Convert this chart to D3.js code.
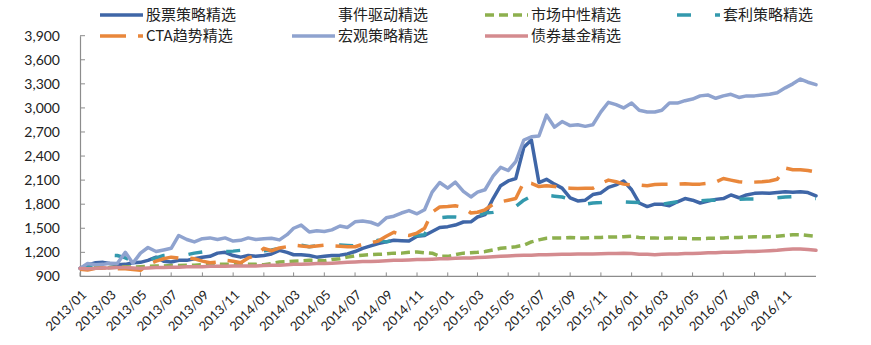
<!DOCTYPE html>
<html><head><meta charset="utf-8">
<script src="https://cdn.jsdelivr.net/npm/d3@7"></script>
<style>
body{margin:0;background:#fff;}
svg{display:block;}
</style></head>
<body><svg id="c" width="871" height="345"></svg>
<script>
// half-month observation dates: 1st and 16th of each month, 2013/01/01 .. 2017/01/01
const dates = d3.range(97).map(i => new Date(2013, Math.floor(i / 2), i % 2 ? 16 : 1));

const yTicks = [900, 1200, 1500, 1800, 2100, 2400, 2700, 3000, 3300, 3600, 3900];

const seriesNames = ["股票策略精选","事件驱动精选","市场中性精选","套利策略精选","CTA趋势精选","宏观策略精选","债券基金精选"];

const stock = [1000,1040,1070,1075,1060,1045,1050,1070,1075,1100,1140,1090,1080,1100,1100,1120,1140,1150,1190,1200,1160,1140,1160,1150,1160,1180,1225,1200,1170,1170,1160,1140,1150,1160,1165,1180,1210,1250,1280,1310,1330,1350,1345,1340,1400,1410,1460,1510,1520,1540,1578,1580,1640,1670,1870,2030,2090,2120,2510,2600,2070,2110,2050,2000,1880,1840,1850,1920,1940,2010,2040,2090,1980,1815,1770,1800,1800,1780,1830,1870,1850,1815,1840,1860,1870,1915,1880,1915,1935,1940,1935,1945,1955,1950,1955,1945,1905];

const event = [];

const neutral = [1000,1005,1010,1005,1010,1015,1020,1015,1020,1025,1030,1030,1035,1035,1040,1040,1045,1045,1050,1050,1055,1055,1050,1050,1045,1060,1080,1085,1090,1095,1100,1100,1095,1110,1120,1140,1155,1165,1170,1175,1180,1190,1190,1200,1205,1195,1190,1150,1150,1170,1190,1195,1200,1210,1230,1250,1260,1270,1290,1330,1355,1375,1380,1380,1385,1380,1380,1385,1385,1390,1390,1395,1400,1385,1380,1380,1375,1380,1375,1375,1370,1370,1375,1375,1380,1385,1385,1390,1395,1390,1395,1400,1410,1420,1420,1410,1400];

const arbitrage = [1000,1020,1060,1100,1165,1160,1130,1090,1075,1100,1130,1160,1170,1180,1170,1190,1205,1205,1200,1210,1215,1225,1215,1200,1220,1230,1250,1270,1285,1290,1270,1280,1285,1290,1290,1285,1280,1300,1330,1350,1330,1350,1380,1400,1410,1420,1600,1630,1640,1640,1630,1640,1650,1690,1700,1720,1740,1770,1850,1900,1920,1910,1900,1890,1860,1820,1800,1815,1820,1830,1840,1830,1825,1820,1810,1805,1800,1815,1830,1840,1840,1840,1850,1850,1855,1860,1860,1865,1865,1870,1875,1880,1890,1895,1890,1880,1870];

const cta = [990,980,1000,1005,1005,995,995,985,975,1050,1090,1120,1140,1130,1130,1120,1090,1070,1080,1100,1090,1070,1130,1160,1250,1220,1255,1270,1290,1280,1270,1280,1290,1280,1275,1270,1270,1300,1320,1340,1400,1450,1420,1410,1440,1500,1700,1765,1770,1780,1760,1690,1700,1730,1800,1830,1850,1870,2075,2060,2020,2030,2020,2005,2000,1995,2000,2000,2060,2100,2080,2050,2040,2040,2030,2045,2050,2050,2050,2055,2050,2050,2060,2075,2120,2100,2080,2070,2075,2080,2090,2110,2250,2230,2230,2220,2200];

const macro = [1000,1060,1045,1050,1065,1060,1200,1065,1190,1260,1210,1230,1250,1410,1360,1330,1370,1380,1360,1380,1340,1350,1380,1360,1370,1375,1355,1420,1500,1540,1454,1470,1460,1480,1528,1510,1580,1590,1575,1540,1630,1650,1690,1720,1680,1730,1950,2070,2000,2075,1960,1890,1950,1980,2150,2260,2220,2330,2600,2640,2650,2910,2760,2830,2780,2790,2770,2790,2950,3070,3040,3000,3060,2970,2950,2950,2970,3060,3060,3090,3110,3150,3160,3120,3150,3170,3130,3150,3150,3160,3170,3190,3250,3300,3360,3320,3290];

const bond = [1000,995,1000,1005,1005,1010,1010,1005,1000,1005,1010,1010,1015,1015,1020,1020,1020,1025,1025,1025,1030,1030,1030,1030,1035,1040,1040,1045,1050,1050,1055,1060,1060,1065,1070,1075,1080,1085,1085,1090,1095,1100,1100,1105,1110,1110,1115,1120,1120,1125,1130,1130,1135,1140,1145,1150,1155,1160,1165,1165,1170,1170,1172,1175,1175,1178,1180,1180,1182,1185,1185,1188,1185,1175,1175,1170,1175,1180,1180,1185,1185,1190,1195,1195,1200,1200,1205,1210,1210,1215,1220,1225,1235,1240,1240,1235,1225];

const seriesValues = [stock, event, neutral, arbitrage, cta, macro, bond];
const seriesColors = ["#3F66A7", "none", "#8DB04E", "#3399AD", "#E9873B", "#8FA3CF", "#D48B8F"];
const seriesDash = [null, null, "9,5", "14,24", "26,12", null, null];
const seriesWidth = [3.5, 3.5, 3.5, 3.5, 3.5, 3.5, 3.5];

const svg = d3.select("#c");
const x = d3.scaleTime().domain([new Date(2013,0,1), new Date(2017,0,1)]).range([80, 816]);
const y = d3.scaleLinear().domain([900, 3900]).range([276.4, 35.7]);

// axes
const yAxis = d3.axisLeft(y).tickValues(yTicks).tickSize(0).tickPadding(20).tickFormat(d3.format(","));
const gy = svg.append("g").attr("transform","translate(80,0)").call(yAxis);
gy.select(".domain").attr("stroke","#8c8c8c").attr("stroke-width",1.2);
gy.selectAll("text").attr("font-family","Lato, 'Liberation Sans', sans-serif").attr("font-size",14).attr("fill","#222").attr("x",-20);
gy.selectAll(".tk").data(yTicks).enter().append("line")
  .attr("x1",0).attr("x2",5).attr("y1",d=>y(d)).attr("y2",d=>y(d)).attr("stroke","#8c8c8c").attr("stroke-width",1);

const xTicks = d3.timeMonth.range(new Date(2013,0,1), new Date(2016,11,1), 2);
const gx = svg.append("g").attr("transform","translate(0,"+y(900)+")");
gx.append("line").attr("x1",80).attr("x2",816).attr("y1",0).attr("y2",0).attr("stroke","#8c8c8c").attr("stroke-width",1.2);
gx.selectAll(".xt").data(xTicks).enter().append("line")
  .attr("x1",d=>x(d)).attr("x2",d=>x(d)).attr("y1",0).attr("y2",-4).attr("stroke","#8c8c8c").attr("stroke-width",1);
const fmt = d3.timeFormat("%Y/%m");
gx.selectAll(".xl").data(xTicks).enter().append("text")
  .attr("transform", d => "translate(" + (x(d)+4) + ",16) rotate(-45)")
  .attr("text-anchor","end").attr("dy","0.35em")
  .attr("font-family","Lato, 'Liberation Sans', sans-serif").attr("font-size",13).attr("fill","#222")
  .text(d => fmt(d));

// lines
const line = d3.line().x((d,i)=>x(dates[i])).y(d=>y(d)).curve(d3.curveLinear);
seriesValues.forEach((vals, s) => {
  if (!vals.length || seriesColors[s] === "none") return;
  svg.append("path").datum(vals).attr("d", line)
    .attr("fill","none").attr("stroke",seriesColors[s]).attr("stroke-width",seriesWidth[s])
    .attr("stroke-linejoin","round").attr("stroke-linecap", seriesDash[s] ? "butt" : "round")
    .attr("stroke-dasharray", seriesDash[s]);
});

// legend
const legPos = [[100,15],[292,15],[485,15],[677,15],[100,36],[292,36],[485,36]];
seriesNames.forEach((name, s) => {
  const [lx, ly] = legPos[s];
  if (seriesColors[s] !== "none") {
    svg.append("line").attr("x1",lx).attr("x2",lx+43).attr("y1",ly).attr("y2",ly)
      .attr("stroke",seriesColors[s]).attr("stroke-width",3.5).attr("stroke-dasharray",seriesDash[s]);
  }
  svg.append("text").attr("x",lx+46).attr("y",ly).attr("dy","0.35em")
    .attr("font-family","'Noto Sans CJK SC', sans-serif").attr("font-size",15).attr("fill","#222")
    .text(name);
});
</script></body></html>
